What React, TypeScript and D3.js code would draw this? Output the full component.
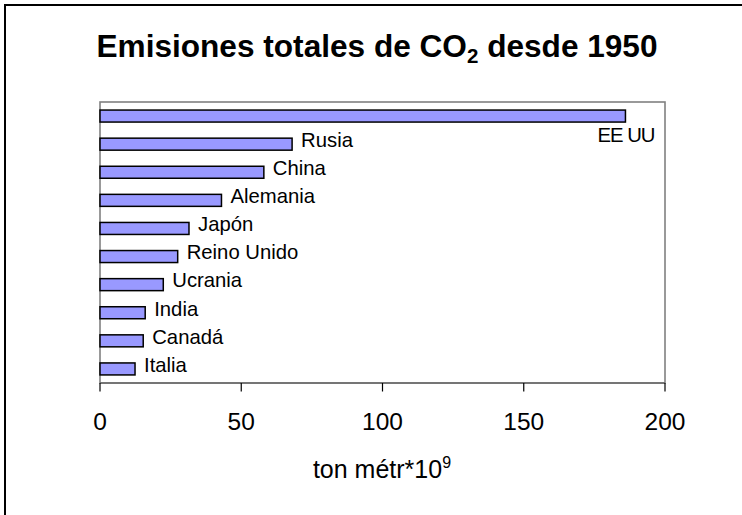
import React from "react";
import * as d3 from "d3";

// Total CO2 emissions since 1950, by country (billions of metric tons)
const countries = ["EE UU", "Rusia", "China", "Alemania", "Japón", "Reino Unido", "Ucrania", "India", "Canadá", "Italia"];
const emissions = [186, 68, 58, 43, 31.5, 27.5, 22.4, 16, 15.3, 12.4];
const xTicks = [0, 50, 100, 150, 200];

const W = 742;
const H = 515;
const plot = { left: 100, right: 665, top: 102, bottom: 383 };
const FONT = "Arial, 'Liberation Sans', Helvetica, sans-serif";

export default function App() {
  const x = d3.scaleLinear().domain([0, 200]).range([plot.left, plot.right]);
  const y = d3
    .scaleBand<string>()
    .domain(countries)
    .range([plot.top, plot.bottom])
    .paddingInner(0.573)
    .paddingOuter(0.287);

  return (
    <div style={{ position: "absolute", left: 0, top: 0 }}>
      <svg width={W} height={H} style={{ display: "block", background: "#fff" }} fontFamily={FONT}>
        {/* outer chart frame */}
        <rect x={5} y={5} width={W + 10} height={H + 10} fill="#fff" stroke="#000" strokeWidth={2} />

        {/* title */}
        <text x={377} y={57} textAnchor="middle" fontSize={31.6} fontWeight="bold" fill="#000">
          Emisiones totales de CO
          <tspan fontSize={20.5} dy={6}>2</tspan>
          <tspan dy={-6}> desde 1950</tspan>
        </text>

        {/* plot area frame */}
        <rect
          x={plot.left}
          y={plot.top}
          width={plot.right - plot.left}
          height={plot.bottom - plot.top}
          fill="#fff"
          stroke="#808080"
          strokeWidth={1.6}
        />

        {/* bars */}
        {countries.map((c, i) => (
          <rect
            key={c}
            x={x(0)}
            y={y(c)!}
            width={x(emissions[i]) - x(0)}
            height={y.bandwidth()}
            fill="#9999FF"
            stroke="#000"
            strokeWidth={1.5}
          />
        ))}

        {/* data labels */}
        {countries.map((c, i) => {
          const cy = y(c)! + y.bandwidth() / 2;
          if (i === 0) {
            return (
              <text key={c} x={x(emissions[i]) + 29} y={cy + 26} textAnchor="end" fontSize={20.3} fill="#000" letterSpacing={-1}>
                {c}
              </text>
            );
          }
          return (
            <text key={c} x={x(emissions[i]) + 9} y={cy + 2.8} fontSize={20.3} fill="#000">
              {c}
            </text>
          );
        })}

        {/* x axis */}
        <line x1={plot.left} x2={plot.right} y1={plot.bottom} y2={plot.bottom} stroke="#6a6a6a" strokeWidth={1.6} />
        {xTicks.map((t) => (
          <g key={t}>
            <line x1={x(t)} x2={x(t)} y1={plot.bottom} y2={plot.bottom + 8.5} stroke="#000" strokeWidth={1.2} />
            <text x={x(t)} y={429.5} textAnchor="middle" fontSize={24.5} fill="#000">
              {t}
            </text>
          </g>
        ))}

        {/* axis title */}
        <text x={382} y={478} textAnchor="middle" fontSize={25} fill="#000">
          ton métr*10
          <tspan fontSize={16} dy={-10}>9</tspan>
        </text>
      </svg>
    </div>
  );
}
